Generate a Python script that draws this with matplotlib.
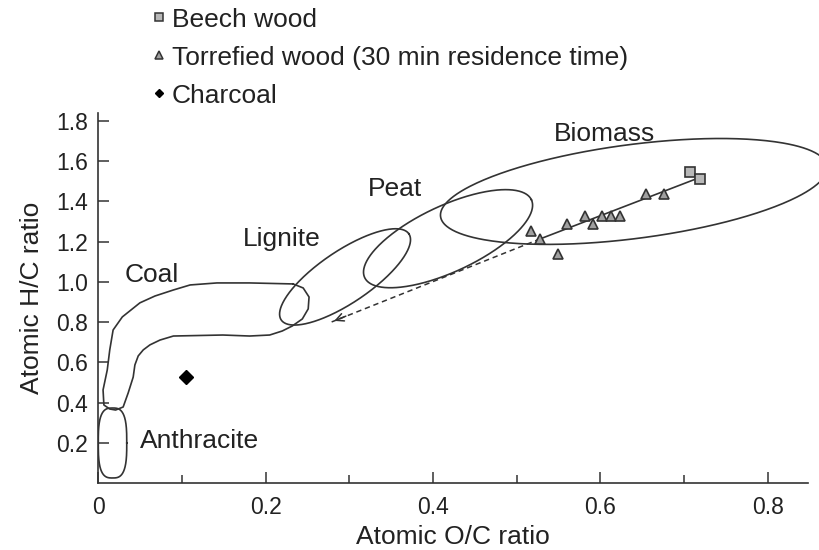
import numpy as np
import matplotlib.pyplot as plt
from matplotlib.lines import Line2D

plt.rcParams['font.family'] = ['Liberation Sans', 'DejaVu Sans']

# samples (atomic O/C, atomic H/C)
beech_oc = [0.707, 0.719]
beech_hc = [1.547, 1.512]
torr_oc = [0.654, 0.676, 0.581, 0.602, 0.613, 0.623, 0.560, 0.591, 0.517, 0.528, 0.549]
torr_hc = [1.438, 1.438, 1.328, 1.328, 1.328, 1.328, 1.289, 1.289, 1.254, 1.214, 1.139]
charcoal_oc = [0.105]
charcoal_hc = [0.527]

# torrefaction trend: solid part and dashed extrapolation
trend_oc = [0.528, 0.719]
trend_hc = [1.214, 1.520]
arrow_oc = [0.528, 0.279]
arrow_hc = [1.214, 0.801]

# coal band outline
coal_oc = [0.233, 0.181, 0.142, 0.110, 0.090, 0.068, 0.050, 0.029, 0.018, 0.014, 0.011,
           0.006, 0.007, 0.014, 0.021, 0.030, 0.036, 0.042, 0.044, 0.048, 0.054, 0.062,
           0.074, 0.090, 0.149, 0.181, 0.205, 0.220, 0.232, 0.244, 0.251, 0.252, 0.245, 0.233]
coal_hc = [0.990, 0.995, 0.995, 0.985, 0.960, 0.930, 0.896, 0.826, 0.761, 0.662, 0.562,
           0.463, 0.388, 0.368, 0.363, 0.378, 0.448, 0.527, 0.587, 0.632, 0.662, 0.687,
           0.711, 0.731, 0.736, 0.731, 0.736, 0.756, 0.781, 0.816, 0.866, 0.925, 0.970, 0.990]

# ellipses: centre O/C, centre H/C, semi-axes (px), tilt (deg)
lignite_ell = [0.295, 1.025, 77, 26, 34]
peat_ell = [0.418, 1.215, 92, 33, 25]
biomass_ell = [0.640, 1.450, 195, 47, 7.4]
anthracite_box = [0.0173, 0.199, 0.017, 0.174]

region_names = ['Coal', 'Lignite', 'Peat', 'Biomass', 'Anthracite']
name_oc = [0.032, 0.219, 0.355, 0.605, 0.050]
name_hc = [1.035, 1.215, 1.46, 1.735, 0.210]
name_ha = ['left', 'center', 'center', 'center', 'left']

xlim = (0, 0.848)
ylim = (0, 1.84)

fig = plt.figure(figsize=(8.19, 5.5), dpi=100)
ax = fig.add_axes([0.1197, 0.1218, 0.867, 0.6727])
ax.set_xlim(*xlim)
ax.set_ylim(*ylim)

lc = '#333333'
px_x = ax.bbox.width / (xlim[1] - xlim[0])
px_y = ax.bbox.height / (ylim[1] - ylim[0])


def ellipse(cx, cy, a, b, ang):
    t = np.linspace(0, 2 * np.pi, 400)
    th = np.radians(ang)
    u = a * np.cos(t)
    v = b * np.sin(t)
    dx = u * np.cos(th) - v * np.sin(th)
    dy = u * np.sin(th) + v * np.cos(th)
    return cx + dx / px_x, cy + dy / px_y


for e in [lignite_ell, peat_ell, biomass_ell]:
    ex, ey = ellipse(*e)
    ax.plot(ex, ey, color=lc, lw=1.2, clip_on=False)

ax.plot(coal_oc, coal_hc, color=lc, lw=1.2)

# anthracite: rounded box
t = np.linspace(0, 2 * np.pi, 400)
n = 3.0
ac, ah, aw, aht = anthracite_box
axx = ac + aw * np.sign(np.cos(t)) * np.abs(np.cos(t)) ** (2 / n)
ayy = ah + aht * np.sign(np.sin(t)) * np.abs(np.sin(t)) ** (2 / n)
ax.plot(axx, ayy, color=lc, lw=1.2)

ax.plot(trend_oc, trend_hc, color=lc, lw=1.2)
ax.plot(arrow_oc, arrow_hc, color=lc, lw=1.1, ls=(0, (3.5, 2.5)))
ax.annotate('', xy=(arrow_oc[1], arrow_hc[1]), xytext=(arrow_oc[1] + 0.02, arrow_hc[1] + 0.034),
            arrowprops=dict(arrowstyle='->', color=lc, lw=1.1, mutation_scale=14))

ax.plot(torr_oc, torr_hc, ls='none', marker='^', ms=7, mfc='#a0a0a0', mec='#333333', mew=1.2)
ax.plot(beech_oc, beech_hc, ls='none', marker='s', ms=7.5, mfc='#b8b8b8', mec='#333333', mew=1.2)
ax.plot(charcoal_oc, charcoal_hc, ls='none', marker='D', ms=7, mfc='black', mec='black')

for nm, x, y, ha in zip(region_names, name_oc, name_hc, name_ha):
    ax.text(x, y, nm, fontsize=19, ha=ha, va='center', color='#222222')

ax.spines['top'].set_visible(False)
ax.spines['right'].set_visible(False)
for s in ['left', 'bottom']:
    ax.spines[s].set_color(lc)
    ax.spines[s].set_linewidth(1.2)

ax.set_xticks([0, 0.2, 0.4, 0.6, 0.8])
ax.set_xticklabels(['0', '0.2', '0.4', '0.6', '0.8'])
ax.set_xticks([0.1, 0.3, 0.5, 0.7], minor=True)
yt = [0.2, 0.4, 0.6, 0.8, 1.0, 1.2, 1.4, 1.6, 1.8]
ax.set_yticks(yt)
ax.set_yticklabels([f'{v:.1f}' for v in yt])
ax.tick_params(which='both', direction='in', colors=lc, labelcolor='#222222', labelsize=16.5, width=1.1)
ax.tick_params(which='major', length=8)
ax.tick_params(which='minor', length=6)
ax.tick_params(axis='x', pad=9)
ax.tick_params(axis='y', pad=7)

ax.set_xlabel('Atomic O/C ratio', fontsize=19, color='#222222', labelpad=5)
ax.set_ylabel('Atomic H/C ratio', fontsize=19, color='#222222', labelpad=9)

handles = [
    Line2D([], [], ls='none', marker='s', ms=5.5, mfc='#b8b8b8', mec='#333333', mew=1.1),
    Line2D([], [], ls='none', marker='^', ms=5.5, mfc='#a0a0a0', mec='#333333', mew=1.1),
    Line2D([], [], ls='none', marker='D', ms=4.5, mfc='black', mec='black'),
]
labels = ['Beech wood', 'Torrefied wood (30 min residence time)', 'Charcoal']
fig.legend(handles, labels, loc='upper left', bbox_to_anchor=(0.168, 1.01), frameon=False,
           fontsize=19, handlelength=0.6, handletextpad=0.2, labelspacing=0.53,
           borderpad=0.0, labelcolor='#222222')

fig.savefig('out.png', dpi=100)
